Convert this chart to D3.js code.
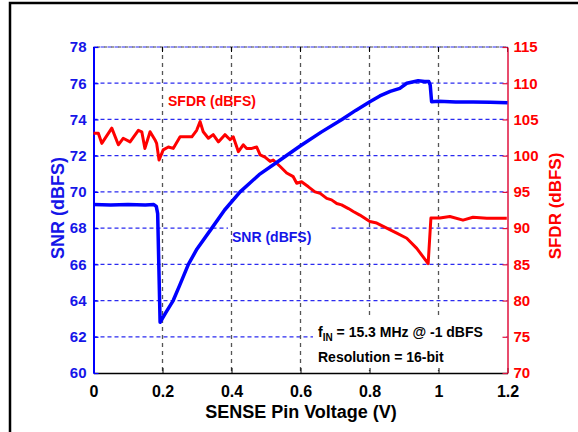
<!DOCTYPE html>
<html>
<head>
<meta charset="utf-8">
<script src="https://cdn.jsdelivr.net/npm/d3@7"></script>
<style>
  html, body { margin: 0; padding: 0; background: #fff; }
  svg { display: block; font-family: "Liberation Sans", Arial, sans-serif; font-weight: bold; }
</style>
</head>
<body>
<svg id="chart" width="578" height="432"></svg>
<script>
// ---- data ----
const snrVoltage = [0, 0.05, 0.1, 0.15, 0.175, 0.182, 0.186, 0.193, 0.21, 0.231, 0.25, 0.275, 0.30, 0.343, 0.38, 0.425, 0.48, 0.541, 0.6, 0.66, 0.72, 0.76, 0.801, 0.83, 0.86, 0.888, 0.908, 0.941, 0.96, 0.972, 0.976, 0.98, 1.0, 1.05, 1.1, 1.15, 1.2];
const snrValues  = [69.3, 69.28, 69.3, 69.28, 69.3, 69.2, 68.8, 62.8, 63.35, 64.0, 64.85, 66.0, 66.85, 68.0, 69.0, 70.0, 70.95, 71.76, 72.55, 73.3, 74.0, 74.5, 74.98, 75.3, 75.55, 75.72, 76.0, 76.14, 76.1, 76.09, 75.9, 74.98, 75.0, 74.97, 74.97, 74.95, 74.92];

const sfdrVoltage = [0, 0.014, 0.024, 0.053, 0.072, 0.086, 0.106, 0.13, 0.14, 0.149, 0.164, 0.178, 0.183, 0.19, 0.202, 0.217, 0.231, 0.251, 0.265, 0.285, 0.299, 0.309, 0.318, 0.333, 0.347, 0.362, 0.381, 0.396, 0.405, 0.42, 0.434, 0.444, 0.459, 0.473, 0.483, 0.497, 0.512, 0.521, 0.541, 0.56, 0.579, 0.589, 0.603, 0.623, 0.642, 0.657, 0.676, 0.69, 0.705, 0.719, 0.739, 0.753, 0.772, 0.801, 0.821, 0.85, 0.879, 0.908, 0.937, 0.97, 0.978, 1.004, 1.033, 1.071, 1.1, 1.14, 1.198];
const sfdrValues  = [103.1, 103.1, 101.7, 103.8, 101.5, 102.4, 101.9, 103.5, 103.3, 101.0, 103.3, 102.2, 101.7, 99.4, 100.8, 101.2, 101.0, 102.6, 102.6, 102.6, 103.5, 104.7, 103.3, 102.4, 102.9, 101.9, 102.9, 102.2, 102.6, 100.55, 101.5, 101.0, 101.0, 101.2, 100.1, 99.8, 99.2, 99.4, 98.5, 97.6, 97.1, 96.2, 96.4, 95.7, 95.0, 94.8, 94.1, 93.9, 93.4, 93.2, 92.7, 92.3, 91.8, 90.9, 90.7, 90.0, 89.3, 88.6, 87.2, 85.1, 91.4, 91.4, 91.6, 91.1, 91.5, 91.36, 91.36];

const xTicks = [0, 0.2, 0.4, 0.6, 0.8, 1, 1.2];
const snrTicks = [60, 62, 64, 66, 68, 70, 72, 74, 76, 78];
const sfdrTicks = [70, 75, 80, 85, 90, 95, 100, 105, 110, 115];

const xTitle = "SENSE Pin Voltage (V)";
const yLeftTitle = "SNR (dBFS)";
const yRightTitle = "SFDR (dBFS)";

// ---- layout ----
const L = 93.5, R = 507.5, T = 47, B = 373;
const BLUE = "#0000ff", BLUE_TXT = "#1515e8", RED = "#ff0000", RED_AX = "#e0103c";

const svg = d3.select("#chart");

// frame
svg.append("rect").attr("x", 10).attr("y", 3).attr("width", 700).attr("height", 600)
  .attr("fill", "none").attr("stroke", "#000").attr("stroke-width", 2.5);

const x = d3.scaleLinear().domain([0, 1.2]).range([L, R]);
const yL = d3.scaleLinear().domain([60, 78]).range([B, T]);
const yR = d3.scaleLinear().domain([70, 115]).range([B, T]);

// horizontal grid (blue dashed)
svg.append("g").selectAll("line").data(snrTicks.slice(1)).join("line")
  .attr("x1", L).attr("x2", R).attr("y1", d => yL(d)).attr("y2", d => yL(d))
  .attr("stroke", "#2a2af0").attr("stroke-width", 1.2).attr("stroke-dasharray", "4,3");

// white box behind SNR label
svg.append("rect").attr("x", 228).attr("y", 224).attr("width", 101).attr("height", 24).attr("fill", "#fff");

// vertical grid (gray dashed)
svg.append("g").selectAll("line").data(xTicks.slice(1, -1)).join("line")
  .attr("x1", d => x(d)).attr("x2", d => x(d)).attr("y1", T).attr("y2", B)
  .attr("stroke", "#555").attr("stroke-width", 1.3).attr("stroke-dasharray", "4,4");

// top line
svg.append("line").attr("x1", L).attr("x2", R).attr("y1", T).attr("y2", T)
  .attr("stroke", "#444").attr("stroke-width", 1.2).attr("stroke-dasharray", "3,4").attr("stroke-dashoffset", 3.5);

// white box behind annotation
svg.append("rect").attr("x", 313).attr("y", 318).attr("width", 192).attr("height", 52).attr("fill", "#fff");

// top ticks
svg.append("g").selectAll("line").data(xTicks).join("line")
  .attr("x1", d => x(d)).attr("x2", d => x(d)).attr("y1", T).attr("y2", T + 5)
  .attr("stroke", "#000").attr("stroke-width", 1);

// bottom axis
const gx = svg.append("g").attr("transform", `translate(0,${B})`)
  .call(d3.axisBottom(x).tickValues(xTicks).tickFormat(d3.format("~g")).tickSizeInner(-5).tickSizeOuter(0).tickPadding(13));
gx.select(".domain").attr("stroke", "#000").attr("stroke-width", 1.5);
gx.selectAll(".tick line").attr("stroke", "#000");
gx.selectAll("text").attr("fill", "#000").attr("font-size", 16).attr("font-family", "Liberation Sans, Arial, sans-serif").attr("font-weight", "bold");

// left axis
const gl = svg.append("g").attr("transform", `translate(${L},0)`)
  .call(d3.axisLeft(yL).tickValues(snrTicks).tickSizeInner(-5).tickSizeOuter(0).tickPadding(7));
gl.select(".domain").attr("stroke", BLUE).attr("stroke-width", 2);
gl.selectAll(".tick line").attr("stroke", BLUE).attr("stroke-width", 1.2);
gl.selectAll("text").attr("fill", BLUE_TXT).attr("font-size", 15).attr("font-family", "Liberation Sans, Arial, sans-serif").attr("font-weight", "bold");

// right axis
const gr = svg.append("g").attr("transform", `translate(${R},0)`)
  .call(d3.axisRight(yR).tickValues(sfdrTicks).tickSizeInner(-5).tickSizeOuter(0).tickPadding(6));
gr.select(".domain").attr("stroke", RED_AX).attr("stroke-width", 1.5);
gr.selectAll(".tick line").attr("stroke", RED_AX).attr("stroke-width", 1.2);
gr.selectAll("text").attr("fill", RED).attr("font-size", 15).attr("font-family", "Liberation Sans, Arial, sans-serif").attr("font-weight", "bold");

// lines
const snrData = snrVoltage.map((v, i) => [v, snrValues[i]]);
const sfdrData = sfdrVoltage.map((v, i) => [v, sfdrValues[i]]);

svg.append("path").datum(sfdrData)
  .attr("d", d3.line().x(d => x(d[0])).y(d => yR(d[1])))
  .attr("fill", "none").attr("stroke", RED).attr("stroke-width", 3).attr("stroke-linejoin", "round");

svg.append("path").datum(snrData)
  .attr("d", d3.line().x(d => x(d[0])).y(d => yL(d[1])))
  .attr("fill", "none").attr("stroke", BLUE).attr("stroke-width", 3.5).attr("stroke-linejoin", "round");

// axis titles
svg.append("text").attr("x", (L + R) / 2 + 0.5).attr("y", 418).attr("text-anchor", "middle")
  .attr("font-size", 18).attr("fill", "#000").text(xTitle);
svg.append("text").attr("transform", `translate(64,${(T + B) / 2 - 2}) rotate(-90)`).attr("text-anchor", "middle")
  .attr("font-size", 18).attr("fill", BLUE_TXT).text(yLeftTitle);
svg.append("text").attr("transform", `translate(561,${(T + B) / 2 - 4}) rotate(-90)`).attr("text-anchor", "middle")
  .attr("font-size", 17).attr("fill", RED).text(yRightTitle);

// in-plot labels
svg.append("text").attr("x", 168).attr("y", 106).attr("font-size", 14).attr("fill", RED).text("SFDR (dBFS)");
svg.append("text").attr("x", 232).attr("y", 242).attr("font-size", 14).attr("fill", BLUE_TXT).text("SNR (dBFS)");

const ann = svg.append("text").attr("x", 318).attr("y", 337).attr("font-size", 14).attr("fill", "#000");
ann.append("tspan").text("f");
ann.append("tspan").attr("font-size", 10).attr("dy", 4).text("IN");
ann.append("tspan").attr("dy", -4).text(" = 15.3 MHz @ -1 dBFS");
svg.append("text").attr("x", 318).attr("y", 362).attr("font-size", 14).attr("fill", "#000").text("Resolution = 16-bit");
</script>
</body>
</html>
